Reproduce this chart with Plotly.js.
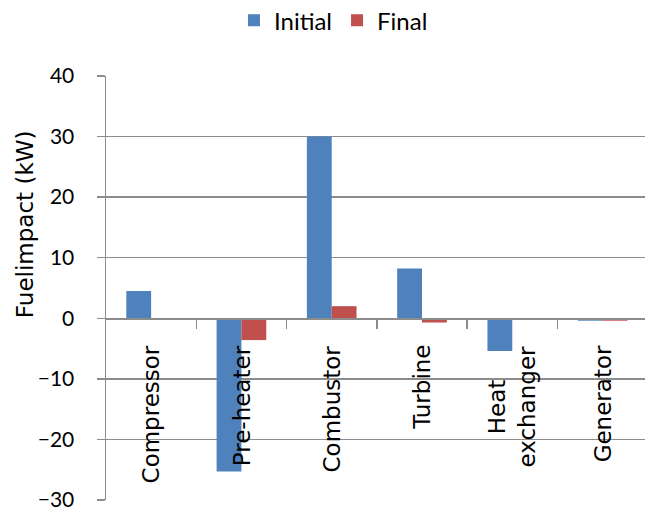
<!DOCTYPE html>
<html>
<head>
<meta charset="utf-8">
<script src="https://cdn.plot.ly/plotly-3.0.1.min.js"></script>
<style>
html,body{margin:0;padding:0;background:#fff;overflow:hidden;}
#chart{width:645px;height:518px;}
</style>
</head>
<body>
<div id="chart"></div>
<script>
var categories = ["Compressor", "Pre-heater", "Combustor", "Turbine", "Heat<br>exchanger", "Generator"];
var initialValues = [4.5, -25.3, 30.0, 8.2, -5.4, -0.4];
var finalValues = [0, -3.6, 2.0, -0.7, 0, -0.4];
var seriesNames = ["Initial", "Final"];
var yTicks = [-30, -20, -10, 0, 10, 20, 30, 40];
var yTitle = "Fuelimpact (kW)";

var idx = categories.map(function(_, i){ return i; });

var traces = [
  {type: "bar", name: seriesNames[0], x: idx, y: initialValues,
   marker: {color: "#4F81BD"}},
  {type: "bar", name: seriesNames[1], x: idx, y: finalValues,
   marker: {color: "#C0504D"}}
];

var annotations = categories.map(function(c, i){
  return {
    x: i, y: 0, xref: "x", yref: "y",
    text: c, showarrow: false, textangle: -90,
    xanchor: "center", yanchor: "top", yshift: -25, align: "center",
    font: {family: "DejaVu Sans", size: 23, color: "#000"}
  };
});
annotations.push({
  x: -0.150, y: 0.651, xref: "paper", yref: "paper",
  text: yTitle, showarrow: false, textangle: -90,
  xanchor: "center", yanchor: "middle",
  font: {family: "DejaVu Sans", size: 23, color: "#000"}
});

var layout = {
  width: 645, height: 518,
  margin: {l: 106, r: 0, t: 76, b: 18},
  paper_bgcolor: "#fff", plot_bgcolor: "#fff",
  barmode: "group", bargap: 0.45, bargroupgap: 0,
  showlegend: true,
  legend: {
    orientation: "h", xref: "container", yref: "container",
    x: 0.517, y: 0.96, xanchor: "center", yanchor: "middle",
    font: {family: "Lato", size: 24, color: "#000"},
    itemwidth: 30, tracegroupgap: 0
  },
  xaxis: {
    type: "linear", range: [-0.5, 5.47],
    anchor: "free", position: 30/70,
    showline: true, linecolor: "#8c8c8c", linewidth: 1.5,
    ticks: "outside", tickvals: [0.5, 1.5, 2.5, 3.5, 4.5],
    ticklen: 9, tickcolor: "#8c8c8c", tickwidth: 1.5,
    showticklabels: false, showgrid: false, zeroline: false
  },
  yaxis: {
    range: [-30, 40], tickvals: yTicks,
    showline: true, linecolor: "#8c8c8c", linewidth: 1.5,
    ticks: "outside", ticklen: 8, tickcolor: "#8c8c8c", tickwidth: 1.5,
    showgrid: true, gridcolor: "#8c8c8c", gridwidth: 1.5,
    zeroline: false, ticklabelstandoff: 18,
    tickfont: {family: "Lato", size: 21, color: "#000"}
  },
  annotations: annotations
};

Plotly.newPlot("chart", traces, layout, {staticPlot: true, displayModeBar: false});
</script>
</body>
</html>
